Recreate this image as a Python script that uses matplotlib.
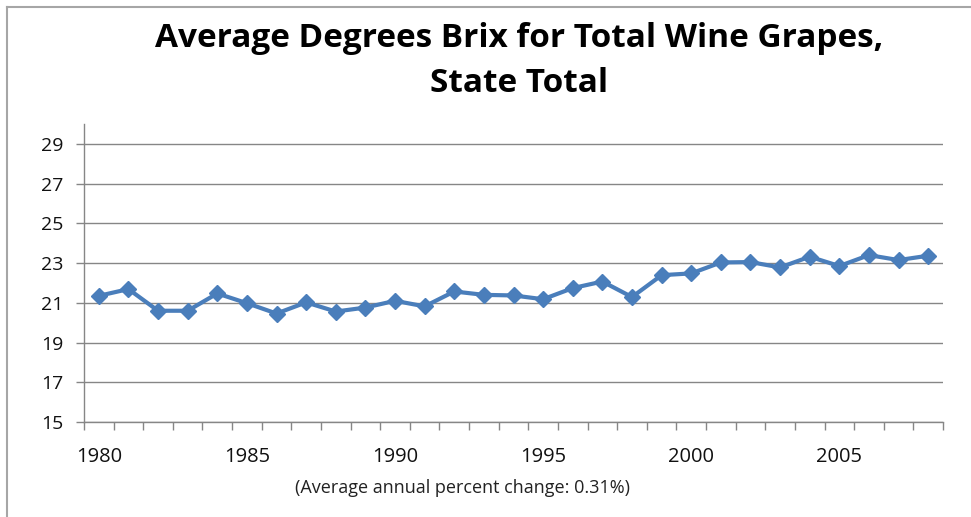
import numpy as np
import matplotlib
matplotlib.use("Agg")
import matplotlib.pyplot as plt
from matplotlib import font_manager
from matplotlib.lines import Line2D

years = list(range(1980, 2009))
brix = [21.35, 21.69, 20.60, 20.60, 21.47, 20.98, 20.46, 21.02, 20.56, 20.76,
        21.10, 20.82, 21.57, 21.40, 21.37, 21.18, 21.74, 22.07, 21.29, 22.39,
        22.48, 23.03, 23.05, 22.78, 23.32, 22.85, 23.40, 23.15, 23.37]
year_labels = [1980, 1985, 1990, 1995, 2000, 2005]
y_ticks = [15, 17, 19, 21, 23, 25, 27, 29]

title = "Average Degrees Brix for Total Wine Grapes,\nState Total"
note = "(Average annual percent change: 0.31%)"

names = {f.name for f in font_manager.fontManager.ttflist}
font = "Liberation Sans Narrow" if "Liberation Sans Narrow" in names else "Open Sans"
plt.rcParams["font.family"] = [font, "DejaVu Sans"]

W, H = 971, 517
fig = plt.figure(figsize=(W / 100, H / 100), dpi=100)

# outer frame (top and left edges visible)
fig.add_artist(Line2D([6.5 / W, 6.5 / W], [0, 1 - 7 / H], color="#a6a6a6", lw=1.5))
fig.add_artist(Line2D([6.5 / W, 1], [1 - 7 / H, 1 - 7 / H], color="#a6a6a6", lw=1.5))

ax = fig.add_axes([84 / W, 1 - 422 / H, (943 - 84) / W, (422 - 124) / H])

x = np.arange(len(years))
ax.plot(x, brix, color="#4a7ebb", lw=3, marker="D", markersize=8.5,
        markerfacecolor="#4a7ebb", markeredgecolor="#4a7ebb", zorder=3)

ax.set_xlim(-0.5, len(years) - 0.5)
ax.set_ylim(15, 30)

# category style ticks: marks between categories, labels every 5 years
ax.set_xticks(np.arange(len(years) + 1) - 0.5)
ax.set_xticklabels([])
ax.set_xticks([years.index(y) for y in year_labels], minor=True)
ax.set_xticklabels([str(y) for y in year_labels], minor=True)
ax.tick_params(axis="x", which="major", length=6, width=1, color="#868686", direction="out")
ax.tick_params(axis="x", which="minor", length=0, pad=18, labelsize=14.5, labelcolor="#111111")

ax.set_yticks(y_ticks)
ax.tick_params(axis="y", length=6, width=1, color="#868686", direction="out", pad=9,
               labelsize=14, labelcolor="#111111")

ax.yaxis.grid(True, color="#868686", lw=1)
ax.set_axisbelow(True)

for s in ["top", "right"]:
    ax.spines[s].set_visible(False)
for s in ["left", "bottom"]:
    ax.spines[s].set_color("#868686")
    ax.spines[s].set_linewidth(1)

fig.text(0.535, 1 - 61 / H, title, ha="center", va="center", fontsize=24,
         fontweight="bold", linespacing=1.5)
fig.text(0.476, 1 - 488 / H, note, ha="center", va="center", fontsize=13, color="#222222")

fig.savefig("out.png", dpi=100)
